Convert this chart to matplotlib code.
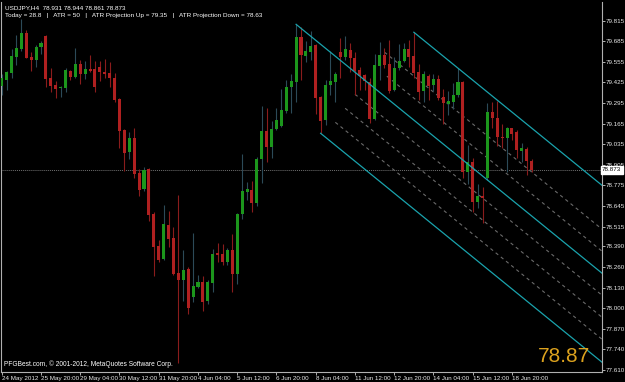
import numpy as np
import matplotlib
matplotlib.use('Agg')
import matplotlib.pyplot as plt

# USDJPY H4, bars from 24 May 2012 12:00 to 19 Jun 2012 12:00
opens = [79.405, 79.443, 79.483, 79.588, 79.636, 79.737, 79.588, 79.567, 79.647, 79.721,
         79.451, 79.409, 79.388, 79.388, 79.500, 79.458, 79.542, 79.479, 79.512, 79.508,
         79.521, 79.493, 79.485, 79.455, 79.321, 79.125, 78.984, 79.072, 78.854, 78.752,
         78.879, 78.593, 78.395, 78.308, 78.525, 78.445, 78.220, 78.178, 78.245, 78.073,
         78.136, 78.163, 78.048, 78.161, 78.351, 78.344, 78.290, 78.367, 78.214, 78.593,
         78.736, 78.744, 78.662, 78.940, 79.119, 79.020, 79.131, 79.152, 79.247, 79.399,
         79.430, 79.712, 79.594, 79.620, 79.660, 79.333, 79.188, 79.411, 79.430, 79.620,
         79.588, 79.632, 79.582, 79.502, 79.470, 79.430, 79.194, 79.529, 79.599, 79.540,
         79.378, 79.514, 79.561, 79.636, 79.592, 79.489, 79.371, 79.468, 79.409, 79.447,
         79.331, 79.287, 79.300, 79.346, 79.426, 78.862, 78.925, 78.673, 78.708, 78.820,
         79.237, 79.199, 79.081, 79.077, 79.136, 79.115, 78.995, 79.005, 78.931]
highs = [79.476, 79.497, 79.636, 79.725, 79.826, 79.756, 79.615, 79.662, 79.687, 79.725,
         79.514, 79.434, 79.401, 79.519, 79.506, 79.641, 79.567, 79.561, 79.599, 79.561,
         79.561, 79.571, 79.552, 79.485, 79.325, 79.131, 79.115, 79.136, 78.879, 78.894,
         78.883, 78.609, 78.431, 78.652, 78.614, 78.513, 78.715, 78.367, 78.260, 78.473,
         78.210, 78.203, 78.178, 78.372, 78.410, 78.403, 78.382, 78.468, 78.599, 78.971,
         78.799, 78.803, 78.957, 79.279, 79.262, 79.182, 79.262, 79.384, 79.441, 79.476,
         79.792, 79.777, 79.687, 79.750, 79.666, 79.338, 79.441, 79.624, 79.493, 79.708,
         79.721, 79.672, 79.615, 79.525, 79.476, 79.455, 79.603, 79.683, 79.641, 79.693,
         79.588, 79.666, 79.672, 79.693, 79.742, 79.540, 79.497, 79.476, 79.476, 79.472,
         79.384, 79.371, 79.420, 79.514, 79.434, 79.030, 78.946, 78.782, 78.763, 79.293,
         79.300, 79.308, 79.161, 79.146, 79.140, 79.125, 79.041, 79.020, 78.944]
lows = [79.346, 79.378, 79.455, 79.535, 79.624, 79.577, 79.497, 79.525, 79.603, 79.399,
        79.367, 79.329, 79.333, 79.367, 79.441, 79.451, 79.413, 79.447, 79.489, 79.363,
        79.436, 79.451, 79.399, 79.300, 79.013, 78.866, 78.942, 78.820, 78.708, 78.740,
        78.550, 78.205, 78.294, 78.304, 78.388, 78.210, 77.654, 78.045, 77.963, 78.037,
        78.130, 77.982, 78.024, 78.104, 78.294, 78.273, 78.273, 78.104, 78.151, 78.563,
        78.683, 78.609, 78.647, 78.788, 78.925, 78.946, 79.125, 79.146, 79.230, 79.230,
        79.300, 79.441, 79.556, 79.567, 79.228, 79.104, 79.157, 79.346, 79.300, 79.451,
        79.567, 79.489, 79.346, 79.378, 79.378, 79.167, 79.190, 79.441, 79.514, 79.356,
        79.374, 79.504, 79.556, 79.525, 79.451, 79.314, 79.300, 79.314, 79.371, 79.314,
        79.161, 79.220, 79.258, 79.335, 78.820, 78.782, 78.605, 78.635, 78.536, 78.809,
        79.140, 79.026, 79.009, 78.858, 79.060, 78.946, 78.925, 78.841, 78.861]
closes = [79.451, 79.489, 79.594, 79.645, 79.737, 79.582, 79.567, 79.651, 79.676, 79.445,
          79.405, 79.384, 79.396, 79.504, 79.460, 79.540, 79.476, 79.512, 79.497, 79.396,
          79.489, 79.481, 79.451, 79.317, 79.121, 78.978, 79.072, 78.845, 78.746, 78.872,
          78.588, 78.388, 78.304, 78.532, 78.437, 78.214, 78.178, 78.241, 78.003, 78.142,
          78.168, 78.041, 78.168, 78.344, 78.338, 78.290, 78.365, 78.214, 78.595, 78.740,
          78.755, 78.662, 78.942, 79.119, 79.020, 79.129, 79.186, 79.249, 79.396, 79.432,
          79.712, 79.599, 79.624, 79.655, 79.325, 79.182, 79.409, 79.436, 79.476, 79.586,
          79.636, 79.577, 79.497, 79.466, 79.434, 79.194, 79.535, 79.599, 79.535, 79.371,
          79.514, 79.563, 79.634, 79.584, 79.485, 79.367, 79.479, 79.403, 79.447, 79.329,
          79.293, 79.308, 79.346, 79.426, 78.862, 78.925, 78.673, 78.708, 78.698, 79.237,
          79.199, 79.083, 79.072, 79.136, 79.100, 78.999, 79.013, 78.931, 78.873]

price_ticks = [79.815, 79.685, 79.555, 79.425, 79.295, 79.165, 79.035, 78.905, 78.775,
               78.645, 78.515, 78.390, 78.260, 78.130, 78.000, 77.870, 77.740, 77.610]
time_tick_bars = [0, 8, 16, 24, 32, 40, 48, 56, 64, 72, 80, 88, 96, 104]
time_labels = ['24 May 2012', '25 May 20:00', '29 May 04:00', '30 May 12:00',
               '31 May 20:00', '4 Jun 04:00', '5 Jun 12:00', '6 Jun 20:00',
               '8 Jun 04:00', '11 Jun 12:00', '12 Jun 20:00', '14 Jun 04:00',
               '15 Jun 12:00', '18 Jun 20:00']

# equidistant channel: start bar / start price of the three lines, common slope per bar
chan_bars = [84, 60, 65]
chan_prices = [79.742, 79.792, 79.104]
chan_slope = -0.0252
# inner dashed lines: start bar, fraction of channel width from the middle line
inner_bars = [78, 78.5, 72, 70, 68]
inner_frac = [0.5, 0.25, -0.25, -0.5, -0.75]
chan_width = 0.556

header1 = "USDJPY,H4  78.931 78.944 78.861 78.873"
header2 = "Today = 28.8   |   ATR = 50   |   ATR Projection Up = 79.35   |   ATR Projection Down = 78.63"
copyright = "PFGBest.com, \u00a9 2001-2012, MetaQuotes Software Corp."

W, H = 625, 382
small = ['Liberation Sans', 'DejaVu Sans']
fs = 4.5

fig = plt.figure(figsize=(W / 100, H / 100), dpi=100, facecolor='black')
ax = fig.add_axes([1 / W, 10 / H, 601 / W, 370 / H], facecolor='black')

xmin, xmax = -0.15, 122.35
ax.set_xlim(xmin, xmax)
ax.set_ylim(77.597, 79.933)

x = np.arange(len(opens))
o = np.array(opens); c = np.array(closes); hi = np.array(highs); lo = np.array(lows)
up = c >= o
ax.vlines(x[up], lo[up], hi[up], color='#2c4a58', lw=0.8, zorder=3)
ax.vlines(x[~up], lo[~up], hi[~up], color='#8a1c1c', lw=0.8, zorder=3)
body_h = np.maximum(np.abs(c - o), 0.007)
body_b = np.minimum(o, c)
ax.bar(x[up], body_h[up], bottom=body_b[up], width=0.62, color='#1c961c', lw=0, zorder=4)
ax.bar(x[~up], body_h[~up], bottom=body_b[~up], width=0.62, color='#b02020', lw=0, zorder=4)

# channel lines
for b, p in zip(chan_bars, chan_prices):
    ax.plot([b, xmax], [p, p + chan_slope * (xmax - b)], color='#1aa3ad', lw=0.9, zorder=5)
mid_b, mid_p = chan_bars[1], chan_prices[1]
for b, f in zip(inner_bars, inner_frac):
    p0 = mid_p + chan_slope * (b - mid_b) + f * chan_width
    ax.plot([b, xmax], [p0, p0 + chan_slope * (xmax - b)], color='#6a6a6a', lw=0.8,
            ls=(0, (3, 3)), zorder=2)

# bid line
ax.axhline(closes[-1], color='#707070', lw=0.7, ls=(0, (1, 1)), zorder=1)

# axes styling
for s in ['left', 'right', 'bottom']:
    ax.spines[s].set_color('#b0b0b0')
    ax.spines[s].set_linewidth(0.8)
ax.spines['top'].set_visible(False)
ax.yaxis.tick_right()
ax.set_yticks(price_ticks)
ax.set_yticklabels([f"{v:.3f}" for v in price_ticks])
ax.set_xticks(time_tick_bars)
ax.set_xticklabels(time_labels, ha='left')
ax.tick_params(axis='both', colors='#b0b0b0', length=2.2, width=0.7, labelsize=fs,
               labelcolor='#e8e8e8', pad=0.8)
for lab in ax.get_xticklabels() + ax.get_yticklabels():
    lab.set_family(small)

# current price label on the axis
ax.text(1.0, closes[-1], f"{closes[-1]:.3f}", transform=ax.get_yaxis_transform(),
        ha='left', va='center', fontsize=fs, family=small, color='black',
        bbox=dict(boxstyle='square,pad=0.2', fc='white', ec='white'), zorder=10)

fig.text(5 / W, 1 - 8 / H, header1, color='white', fontsize=4.6, family=small, va='center')
fig.text(5 / W, 1 - 16 / H, header2, color='white', fontsize=4.6, family=small, va='center')
fig.text(4 / W, 1 - 364 / H, copyright, color='white', fontsize=4.8, family=small, va='center')
fig.text(590 / W, 1 - 356 / H, f"{closes[-1]:.2f}", color='#dca21e', fontsize=15,
         family=['Liberation Sans', 'DejaVu Sans'], ha='right', va='center')

fig.savefig('out.png', dpi=100, facecolor='black')
